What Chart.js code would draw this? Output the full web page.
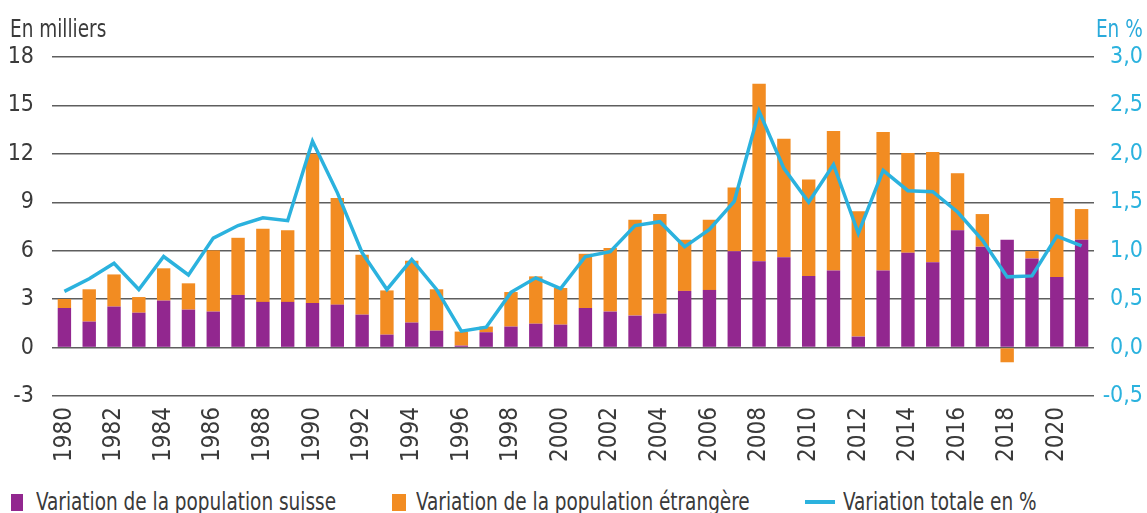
<!DOCTYPE html>
<html>
<head>
<meta charset="utf-8">
<script src="https://cdn.jsdelivr.net/npm/chart.js@4/dist/chart.umd.min.js"></script>
<style>
  html, body { margin: 0; padding: 0; background: #fff; }
  body { width: 1147px; height: 513px; position: relative; overflow: hidden;
         font-family: "DejaVu Sans Condensed", "Liberation Sans Narrow", sans-serif; }
  #wrap { position: absolute; left: 0; top: 0; width: 1147px; height: 470px; }
  .txt { position: absolute; font-size: 24px; line-height: 24px; color: #3a3a3a;
         white-space: nowrap; transform: scaleX(0.855); transform-origin: left top; }
  #unitLeft { left: 10px; top: 17px; }
  #unitRight { right: 4px; top: 17px; color: #2aaadb; transform-origin: right top; }
  .swatch { position: absolute; }
</style>
</head>
<body>
<div id="wrap"><canvas id="popChart" width="1147" height="470"></canvas></div>
<div class="txt" id="unitLeft">En milliers</div>
<div class="txt" id="unitRight">En %</div>
<div id="legend"></div>
<script>
const years = [
  1980, 1981, 1982, 1983, 1984, 1985, 1986, 1987, 1988, 1989,
  1990, 1991, 1992, 1993, 1994, 1995, 1996, 1997, 1998, 1999,
  2000, 2001, 2002, 2003, 2004, 2005, 2006, 2007, 2008, 2009,
  2010, 2011, 2012, 2013, 2014, 2015, 2016, 2017, 2018, 2019,
  2020, 2021,
];

// en milliers
const swissChange = [
  2.45, 1.61, 2.54, 2.16, 2.91, 2.35, 2.23, 3.26, 2.83, 2.83,
  2.76, 2.66, 2.04, 0.80, 1.55, 1.05, 0.12, 0.95, 1.30, 1.48,
  1.42, 2.45, 2.23, 1.98, 2.10, 3.51, 3.57, 5.96, 5.34, 5.59,
  4.43, 4.78, 0.68, 4.78, 5.88, 5.28, 7.26, 6.25, 6.68, 5.52,
  4.37, 6.68,
];

const foreignChange = [
  0.56, 2.00, 1.99, 0.97, 2.00, 1.63, 3.79, 3.54, 4.53, 4.43,
  9.24, 6.60, 3.71, 2.74, 3.83, 2.56, 0.87, 0.35, 2.14, 2.93,
  2.27, 3.36, 3.94, 5.94, 6.17, 3.17, 4.35, 3.96, 11.01, 7.34,
  5.98, 8.64, 7.77, 8.58, 6.18, 6.84, 3.54, 2.02, -0.91, 0.46,
  4.89, 1.90,
];

// en %
const totalChangePct = [
  0.58, 0.71, 0.87, 0.60, 0.94, 0.75, 1.13, 1.26, 1.34, 1.31,
  2.13, 1.60, 0.98, 0.60, 0.91, 0.60, 0.17, 0.21, 0.57, 0.72,
  0.61, 0.94, 0.99, 1.26, 1.30, 1.04, 1.22, 1.51, 2.44, 1.85,
  1.50, 1.89, 1.18, 1.83, 1.62, 1.61, 1.40, 1.11, 0.73, 0.74,
  1.15, 1.05,
];

const legendLabels = [
  "Variation de la population suisse",
  "Variation de la population étrangère",
  "Variation totale en %",
];

const PURPLE = "#92278f";
const ORANGE = "#f28c22";
const BLUE = "#2bb2de";
const TEXT = "#3a3a3a";
const GRID = "#5e5e5e";
const FONT = '"DejaVu Sans Condensed", "Liberation Sans Narrow", sans-serif';

const canvas = document.getElementById("popChart");

new Chart(canvas.getContext("2d"), {
  type: "bar",
  data: {
    labels: years.map(String),
    datasets: [
      {
        label: legendLabels[0],
        data: swissChange,
        backgroundColor: PURPLE,
        stack: "pop",
        yAxisID: "y",
        order: 1,
        barPercentage: 0.54,
        categoryPercentage: 1,
      },
      {
        label: legendLabels[1],
        data: foreignChange,
        backgroundColor: ORANGE,
        stack: "pop",
        yAxisID: "y",
        order: 1,
        barPercentage: 0.54,
        categoryPercentage: 1,
      },
      {
        type: "line",
        label: legendLabels[2],
        data: totalChangePct,
        borderColor: BLUE,
        backgroundColor: BLUE,
        borderWidth: 3.5,
        pointRadius: 0,
        tension: 0,
        yAxisID: "y1",
        order: 0,
      },
    ],
  },
  options: {
    responsive: false,
    animation: false,
    devicePixelRatio: 1,
    layout: { padding: { top: 57, left: 0, right: 4, bottom: 0 } },
    plugins: {
      legend: { display: false },
      tooltip: { enabled: false },
    },
    scales: {
      x: {
        stacked: true,
        grid: { display: false, drawTicks: false },
        border: { display: false },
        ticks: {
          autoSkip: false,
          minRotation: 90,
          maxRotation: 90,
          padding: 11,
          color: TEXT,
          font: { family: FONT, size: 24 },
          callback: function (value, index) {
            return index % 2 === 0 ? this.getLabelForValue(value) : "";
          },
        },
        afterFit: (scale) => { scale.height = 74; },
      },
      y: {
        stacked: true,
        position: "left",
        min: -3,
        max: 18,
        grid: { color: GRID, lineWidth: 1.5, drawTicks: false },
        border: { display: false },
        ticks: {
          stepSize: 3,
          padding: 18,
          color: TEXT,
          font: { family: FONT, size: 23 },
        },
        afterFit: (scale) => { scale.width = 52; },
      },
      y1: {
        position: "right",
        min: -0.5,
        max: 3,
        grid: { display: false, drawTicks: false },
        border: { display: false },
        ticks: {
          stepSize: 0.5,
          padding: 4,
          crossAlign: "far",
          color: BLUE,
          font: { family: FONT, size: 23 },
          callback: (value) => value.toFixed(1).replace(".", ","),
        },
        afterFit: (scale) => { scale.width = 49; },
      },
    },
  },
});

// legend below the chart
const legendItems = [
  { color: PURPLE, swatch: [11, 494, 12, 17], textX: 36 },
  { color: ORANGE, swatch: [392, 494, 14, 17], textX: 416 },
  { color: BLUE, swatch: [805, 500, 30, 4], textX: 843 },
];
const legendEl = document.getElementById("legend");
legendItems.forEach((item, i) => {
  const [x, y, w, h] = item.swatch;
  const sw = document.createElement("div");
  sw.className = "swatch";
  Object.assign(sw.style, {
    left: x + "px", top: y + "px", width: w + "px", height: h + "px", background: item.color,
  });
  const label = document.createElement("div");
  label.className = "txt";
  label.style.left = item.textX + "px";
  label.style.top = "490px";
  label.textContent = legendLabels[i];
  legendEl.appendChild(sw);
  legendEl.appendChild(label);
});
</script>
</body>
</html>
